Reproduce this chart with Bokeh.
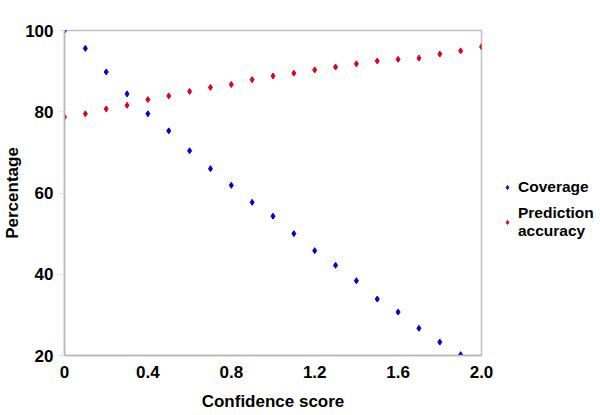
from bokeh.plotting import figure
from bokeh.models import FixedTicker, Legend, LegendItem
from bokeh.embed import file_html
from bokeh.resources import INLINE

confidence = [0.0, 0.1, 0.2, 0.3, 0.4, 0.5, 0.6, 0.7, 0.8, 0.9, 1.0,
              1.1, 1.2, 1.3, 1.4, 1.5, 1.6, 1.7, 1.8, 1.9, 2.0]
coverage = [100.0, 95.6, 89.8, 84.4, 79.5, 75.3, 70.4, 66.0, 61.9, 57.7, 54.3,
            50.0, 45.8, 42.2, 38.4, 33.9, 30.7, 26.7, 23.3, 20.2]
accuracy = [78.7, 79.5, 80.7, 81.6, 83.0, 83.9, 85.0, 86.0, 86.7, 87.9, 88.8,
            89.5, 90.3, 91.0, 91.8, 92.5, 92.9, 93.2, 94.2, 95.0, 96.0]
x_ticks = [0, 0.4, 0.8, 1.2, 1.6, 2.0]
x_tick_labels = ["0", "0.4", "0.8", "1.2", "1.6", "2.0"]
y_ticks = [20, 40, 60, 80, 100]

FONT = "Liberation Sans"

p = figure(frame_width=417, frame_height=325, x_range=(0, 2.0), y_range=(20, 100),
           output_backend="svg", toolbar_location=None,
           min_border_left=56, min_border_right=111, min_border_top=30, min_border_bottom=56)
p.grid.visible = False
p.background_fill_color = "white"
p.border_fill_color = "white"
p.outline_line_color = "#c0c0c0"
p.outline_line_width = 1.5

r1 = p.scatter(confidence[:len(coverage)], coverage, marker="diamond", size=6,
               color="#0000d0")
r2 = p.scatter(confidence, accuracy, marker="diamond", size=6, color="#e00020")

for ax in (p.xaxis[0], p.yaxis[0]):
    ax.axis_line_color = "#b8b8b8"
    ax.axis_line_width = 1.5
    ax.major_label_text_font = FONT
    ax.major_label_text_font_style = "bold"
    ax.major_label_text_font_size = "17px"
    ax.major_label_text_color = "black"
    ax.axis_label_text_font = FONT
    ax.axis_label_text_font_style = "bold"
    ax.axis_label_text_font_size = "17px"
    ax.axis_label_text_color = "black"
    ax.minor_tick_line_color = None

p.xaxis.ticker = FixedTicker(ticks=x_ticks)
p.xaxis.major_label_overrides = {t: l for t, l in zip(x_ticks, x_tick_labels)}
p.xaxis.major_tick_out = 0
p.xaxis.major_tick_in = 0
p.xaxis.major_label_standoff = 10
p.xaxis.axis_label = "Confidence score"
p.xaxis.axis_label_standoff = 11

p.yaxis.ticker = FixedTicker(ticks=y_ticks)
p.yaxis.major_tick_out = 5
p.yaxis.major_tick_in = 0
p.yaxis.major_tick_line_color = "#e0e0e0"
p.yaxis.major_label_standoff = 6
p.yaxis.axis_label = "Percentage"
p.yaxis.axis_label_standoff = 0

legend = Legend(items=[LegendItem(label="Coverage", renderers=[r1]),
                       LegendItem(label="Prediction\naccuracy", renderers=[r2])],
                location=(21, 115), padding=0, margin=0, spacing=8,
                glyph_width=10, glyph_height=14, label_standoff=6,
                label_text_font=FONT, label_text_font_style="bold",
                label_text_font_size="15.5px", label_text_color="black",
                border_line_color=None, background_fill_alpha=0)
p.add_layout(legend, "right")

open("out.html", "w").write(file_html(p, INLINE))
